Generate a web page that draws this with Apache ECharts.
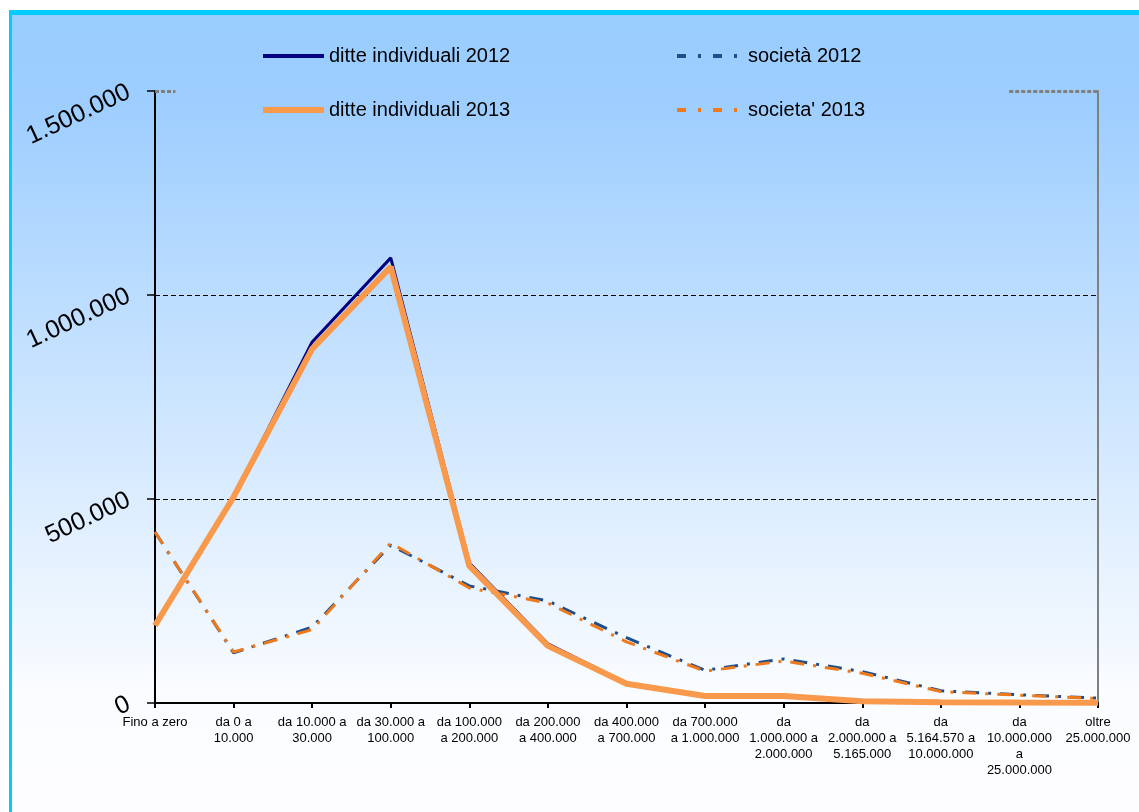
<!DOCTYPE html>
<html>
<head>
<meta charset="utf-8">
<script src="https://cdn.jsdelivr.net/npm/echarts@6/dist/echarts.min.js"></script>
<style>
  html, body { margin: 0; padding: 0; background: #ffffff; }
  #chart { width: 1139px; height: 812px; }
</style>
</head>
<body>
<div id="chart"></div>
<script>
// Fasce di reddito
const categories = [
  'Fino a zero',
  'da 0 a\n10.000',
  'da 10.000 a\n30.000',
  'da 30.000 a\n100.000',
  'da 100.000\na 200.000',
  'da 200.000\na 400.000',
  'da 400.000\na 700.000',
  'da 700.000\na 1.000.000',
  'da\n1.000.000 a\n2.000.000',
  'da\n2.000.000 a\n5.165.000',
  'da\n5.164.570 a\n10.000.000',
  'da\n10.000.000\na\n25.000.000',
  'oltre\n25.000.000'
];

const ditte2012 = [191000, 505000, 885000, 1091000, 343000, 145000, 49000, 17000, 19000, 5000, 2000, 1000, 500];
const ditte2013 = [190000, 505000, 868000, 1069000, 336000, 140000, 47000, 17000, 17000, 4000, 2000, 1000, 500];
const societa2012 = [419000, 123000, 186000, 387000, 287000, 250000, 160000, 80000, 108000, 77000, 30000, 20000, 12000];
const societa2013 = [419000, 125000, 180000, 392000, 282000, 245000, 150000, 78000, 103000, 73000, 28000, 19000, 11000];

const yTicks = [0, 500000, 1000000, 1500000];
const yMax = yTicks[yTicks.length - 1];

const fmt = v => String(v).replace(/\B(?=(\d{3})+(?!\d))/g, '.');

const chart = echarts.init(document.getElementById('chart'));
const font = 'Liberation Sans, Arial, sans-serif';

const C_D12 = '#000080', C_D13 = '#F9994B', C_S12 = '#1F4E8C', C_S13 = '#EE7A1E';
const dashDot = [14, 9, 3, 9];

const legendCommon = {
  orient: 'vertical', top: 41,
  itemHeight: 14, itemGap: 34,
  itemStyle: { opacity: 0 },
  textStyle: { fontFamily: font, fontSize: 20, color: '#000' }
};

chart.setOption({
  backgroundColor: '#ffffff',
  animation: false,
  graphic: [
    {
      type: 'rect', z: -10, silent: true,
      shape: { x: 10, y: 10, width: 1129, height: 802 },
      style: {
        fill: new echarts.graphic.LinearGradient(0, 0, 0, 1, [
          { offset: 0, color: '#99CCFF' },
          { offset: 0.12, color: '#9ECEFF' },
          { offset: 0.85, color: '#FAFCFF' },
          { offset: 1, color: '#FDFDFF' }
        ])
      }
    },
    { type: 'rect', z: -9, silent: true, shape: { x: 9, y: 10, width: 1130, height: 5 }, style: { fill: '#00CCFF' } },
    { type: 'rect', z: -9, silent: true, shape: { x: 9, y: 10, width: 3, height: 802 }, style: { fill: '#00CCFF' } }
  ],
  legend: [
    Object.assign({}, legendCommon, {
      left: 255, itemWidth: 61,
      data: [
        { name: 'ditte individuali 2012', lineStyle: { width: 4, color: C_D12 } },
        { name: 'ditte individuali 2013', lineStyle: { width: 6, color: C_D13 } }
      ]
    }),
    Object.assign({}, legendCommon, {
      left: 670, itemWidth: 66,
      data: [
        { name: 'società 2012', lineStyle: { width: 4, color: C_S12, type: [9, 12, 3, 12] } },
        { name: "societa' 2013", lineStyle: { width: 4, color: C_S13, type: [9, 12, 3, 12] } }
      ]
    })
  ],
  grid: { left: 155, right: 41, top: 91, bottom: 109, containLabel: false },
  xAxis: [
    {
      type: 'category',
      data: categories,
      boundaryGap: false,
      axisLine: { lineStyle: { color: '#000', width: 2 } },
      axisTick: { alignWithLabel: true, length: 5, lineStyle: { color: '#000', width: 2 } },
      axisLabel: {
        interval: 0, margin: 11,
        fontFamily: font, fontSize: 13, lineHeight: 16, color: '#000'
      },
      splitLine: { show: false }
    },
    {
      // helper scale for the plot-frame corner strokes
      type: 'value', min: 0, max: categories.length - 1, show: false
    }
  ],
  yAxis: [
    {
      type: 'value', min: 0, max: yMax, interval: 500000,
      axisLine: { show: true, lineStyle: { color: '#000', width: 2 } },
      axisTick: { show: true, inside: false, length: 8, lineStyle: { color: '#000', width: 1.5 } },
      axisLabel: {
        formatter: v => fmt(v), rotate: 25, margin: 26,
        fontFamily: font, fontSize: 25, color: '#000'
      },
      splitLine: { show: true, showMaxLine: false, lineStyle: { color: '#000', type: [5, 3], width: 1 } }
    },
    {
      type: 'value', position: 'right', min: 0, max: yMax, interval: 500000,
      axisLine: { show: true, lineStyle: { color: '#808080', width: 2 } },
      axisTick: { show: false }, axisLabel: { show: false }, splitLine: { show: false }
    }
  ],
  series: [
    {
      name: 'società 2012', type: 'line', data: societa2012, symbol: 'none', z: 2,
      lineStyle: { color: C_S12, width: 3, type: dashDot },
      itemStyle: { color: C_S12 }
    },
    {
      name: "societa' 2013", type: 'line', data: societa2013, symbol: 'none', z: 3,
      lineStyle: { color: C_S13, width: 3, type: dashDot },
      itemStyle: { color: C_S13 }
    },
    {
      name: 'ditte individuali 2012', type: 'line', data: ditte2012, symbol: 'none', z: 4,
      lineStyle: { color: C_D12, width: 3 },
      itemStyle: { color: C_D12 }
    },
    {
      name: 'ditte individuali 2013', type: 'line', data: ditte2013, symbol: 'none', z: 5,
      lineStyle: { color: C_D13, width: 6 },
      itemStyle: { color: C_D13 }
    },
    {
      name: 'frame', type: 'line', xAxisIndex: 1, data: [], symbol: 'none', silent: true,
      markLine: {
        silent: true, symbol: 'none', label: { show: false },
        lineStyle: { color: '#7F7F7F', type: [4, 2], width: 3 },
        data: [
          [{ coord: [0, yMax] }, { coord: [0.26, yMax] }],
          [{ coord: [10.87, yMax] }, { coord: [12, yMax] }]
        ]
      }
    }
  ]
});
</script>
</body>
</html>
